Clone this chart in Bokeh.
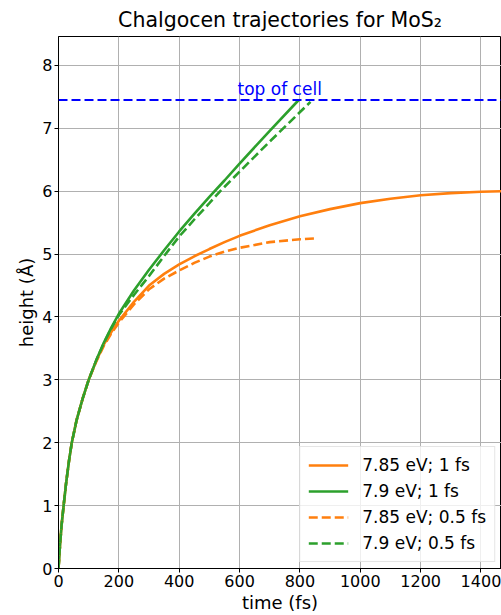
from bokeh.plotting import figure
from bokeh.models import Range1d, FixedTicker, Legend, LegendItem, Span, Label
from bokeh.embed import file_html
from bokeh.resources import INLINE

# ---- data ----
t_785_1 = [0, 2, 5, 10, 17, 25, 35, 44, 60, 80, 100, 125, 150, 175, 200, 250, 300, 350, 400,
           450, 500, 550, 600, 700, 800, 900, 1000, 1100, 1200, 1300, 1400, 1470]
h_785_1 = [0, 0.15, 0.37, 0.68, 1.0, 1.35, 1.72, 2.0, 2.36, 2.70, 3.0, 3.30, 3.56, 3.76, 3.94,
           4.24, 4.50, 4.685, 4.835, 4.965, 5.08, 5.19, 5.29, 5.46, 5.60, 5.715, 5.81, 5.88,
           5.935, 5.97, 5.99, 6.0]

t_79_1 = [0, 2, 5, 10, 17, 25, 35, 44, 60, 80, 100, 125, 150, 175, 200, 250, 300, 350, 400,
          450, 500, 550, 600, 700, 796]
h_79_1 = [0, 0.15, 0.37, 0.68, 1.0, 1.35, 1.72, 2.0, 2.36, 2.70, 3.0, 3.31, 3.59, 3.83, 4.05,
          4.42, 4.75, 5.06, 5.36, 5.64, 5.91, 6.17, 6.44, 6.96, 7.45]

t_785_05 = [0, 2, 5, 10, 17, 25, 35, 44, 60, 80, 100, 125, 150, 175, 200, 250, 300, 350, 400,
            450, 500, 550, 600, 700, 800, 854]
h_785_05 = [0, 0.15, 0.37, 0.68, 1.0, 1.35, 1.72, 2.0, 2.36, 2.70, 3.0, 3.29, 3.54, 3.74, 3.91,
            4.20, 4.44, 4.61, 4.74, 4.86, 4.96, 5.04, 5.10, 5.19, 5.235, 5.25]

t_79_05 = [0, 2, 5, 10, 17, 25, 35, 44, 60, 80, 100, 125, 150, 175, 200, 250, 300, 350, 400,
           450, 500, 536, 600, 700, 835]
h_79_05 = [0, 0.15, 0.37, 0.68, 1.0, 1.35, 1.72, 2.0, 2.36, 2.70, 3.0, 3.31, 3.58, 3.82, 4.03,
           4.35, 4.65, 4.97, 5.28, 5.55, 5.81, 6.0, 6.31, 6.79, 7.42]

labels = ["7.85 eV; 1 fs", "7.9 eV; 1 fs", "7.85 eV; 0.5 fs", "7.9 eV; 0.5 fs"]
cell_top = 7.45
cell_label = "top of cell"
cell_label_x = 733
cell_label_y = 7.47

x_ticks = [0, 200, 400, 600, 800, 1000, 1200, 1400]
y_ticks = [0, 1, 2, 3, 4, 5, 6, 7, 8]

ORANGE = "#ff7f0e"
GREEN = "#2ca02c"
FONT = "DejaVu Sans"

p = figure(width=501, height=615, output_backend="svg", toolbar_location=None,
           x_range=Range1d(0, 1468), y_range=Range1d(0, 8.46),
           min_border_left=58, min_border_right=0, min_border_top=6)

p.title.text = "Chalgocen trajectories for MoS\u2082"
p.title.align = "center"
p.title.text_font = FONT
p.title.text_font_size = "20.5px"
p.title.text_font_style = "normal"
p.title.text_color = "black"

for ax in (p.xaxis[0], p.yaxis[0]):
    ax.axis_line_color = "black"
    ax.major_tick_line_color = "black"
    ax.minor_tick_line_color = None
    ax.major_tick_out = 4
    ax.major_tick_in = 0
    ax.major_label_text_font = FONT
    ax.major_label_text_font_size = "16px"
    ax.major_label_text_color = "black"
    ax.axis_label_text_font = FONT
    ax.axis_label_text_font_size = "18px"
    ax.axis_label_text_font_style = "normal"
    ax.axis_label_text_color = "black"
    ax.major_label_standoff = 2
    ax.axis_label_standoff = 2

p.xaxis[0].ticker = FixedTicker(ticks=x_ticks)
p.yaxis[0].ticker = FixedTicker(ticks=y_ticks)
p.xaxis[0].axis_label = "time (fs)"
p.yaxis[0].axis_label = "height (\u00c5)"

p.grid.grid_line_color = "#b0b0b0"
p.grid.grid_line_width = 1
p.outline_line_color = "black"
p.outline_line_width = 1

lw = 2.6
r1 = p.line(t_785_1, h_785_1, line_color=ORANGE, line_width=lw)
r2 = p.line(t_79_1, h_79_1, line_color=GREEN, line_width=lw)
r3 = p.line(t_785_05, h_785_05, line_color=ORANGE, line_width=lw, line_dash="9 4")
r4 = p.line(t_79_05, h_79_05, line_color=GREEN, line_width=lw, line_dash="9 4")

p.add_layout(Span(location=cell_top, dimension="width", line_color="blue",
                  line_width=2, line_dash="9 4"))
p.add_layout(Label(x=cell_label_x, y=cell_label_y, text=cell_label, text_align="center",
                   text_baseline="bottom", text_color="blue", text_font=FONT,
                   text_font_size="17px"))

legend = Legend(items=[LegendItem(label=labels[0], renderers=[r1]),
                       LegendItem(label=labels[1], renderers=[r2]),
                       LegendItem(label=labels[2], renderers=[r3]),
                       LegendItem(label=labels[3], renderers=[r4])],
                location="bottom_right")
legend.label_text_font = FONT
legend.label_text_font_size = "17px"
legend.label_text_color = "black"
legend.glyph_width = 40
legend.glyph_height = 20
legend.label_height = 20
legend.label_standoff = 14
legend.spacing = 6
legend.padding = 8
legend.margin = 6
legend.border_line_color = "#cccccc"
legend.border_line_width = 1
legend.background_fill_color = "white"
legend.background_fill_alpha = 0.8
p.add_layout(legend)

open("out.html", "w").write(file_html(p, INLINE))
